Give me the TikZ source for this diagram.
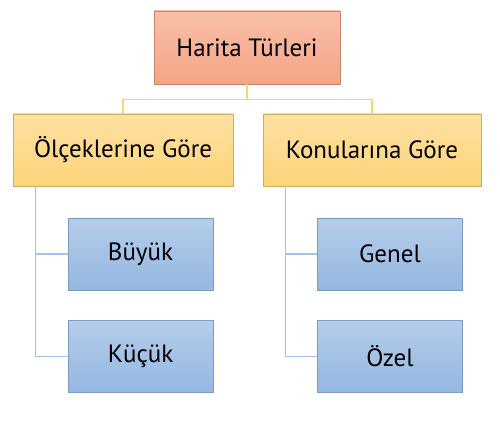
\documentclass[tikz,border=0pt]{standalone}
\usepackage{fontspec}
\setmainfont{PT Sans}
\definecolor{rootTop}{HTML}{F8C0A8}
\definecolor{rootBot}{HTML}{F4A486}
\definecolor{rootLine}{HTML}{C8866C}
\definecolor{midTop}{HTML}{FEE0A2}
\definecolor{midBot}{HTML}{FDD47A}
\definecolor{midLine}{HTML}{CDAE5E}
\definecolor{leafTop}{HTML}{B4CDEA}
\definecolor{leafBot}{HTML}{95B7E1}
\definecolor{leafLine}{HTML}{7E9CC2}
\definecolor{yellowLink}{HTML}{FDD668}
\definecolor{blueLink}{HTML}{A4C5E8}
\tikzset{
    box/.style={rectangle, inner sep=0pt, line width=0.8pt,
        font=\fontsize{25}{30}\selectfont, text=black},
    rootbox/.style={box, top color=rootTop, bottom color=rootBot, draw=rootLine,
        minimum width=186pt, minimum height=73pt},
    midbox/.style={box, top color=midTop, bottom color=midBot, draw=midLine,
        minimum height=72pt},
    leafbox/.style={box, top color=leafTop, bottom color=leafBot, draw=leafLine,
        minimum width=145pt, minimum height=72pt},
    uplink/.style={yellowLink, line width=1.4pt},
    downlink/.style={blueLink, line width=1.4pt}
}
\begin{document}
\begin{tikzpicture}[x=1pt,y=-1pt]
        \useasboundingbox (0,0) rectangle (500,422);

        \node[rootbox] (harita) at (247,47.5) {Harita Türleri};
        \node[midbox, minimum width=220pt] (olcek) at (123,150) {Ölçeklerine Göre};
        \node[midbox, minimum width=218pt] (konu) at (372,150) {Konularına Göre};

        \node[leafbox] (buyuk) at (140.5,254) {Büyük};
        \node[leafbox] (kucuk) at (140.5,356.5) {Küçük};
        \node[leafbox] (genel) at (390,254) {Genel};
        \node[leafbox] (ozel) at (390,356.5) {Özel};

        \coordinate (split) at (247,99.5);
        \draw[uplink] (harita.south) -- (split) -| (olcek.north);
        \draw[uplink] (split) -| (konu.north);

        \draw[downlink] ([xshift=23pt]olcek.south west) |- (buyuk.west);
        \draw[downlink] ([xshift=23pt]olcek.south west) |- (kucuk.west);
        \draw[downlink] ([xshift=23pt]konu.south west) |- (genel.west);
        \draw[downlink] ([xshift=23pt]konu.south west) |- (ozel.west);
    \end{tikzpicture}
\end{document}
